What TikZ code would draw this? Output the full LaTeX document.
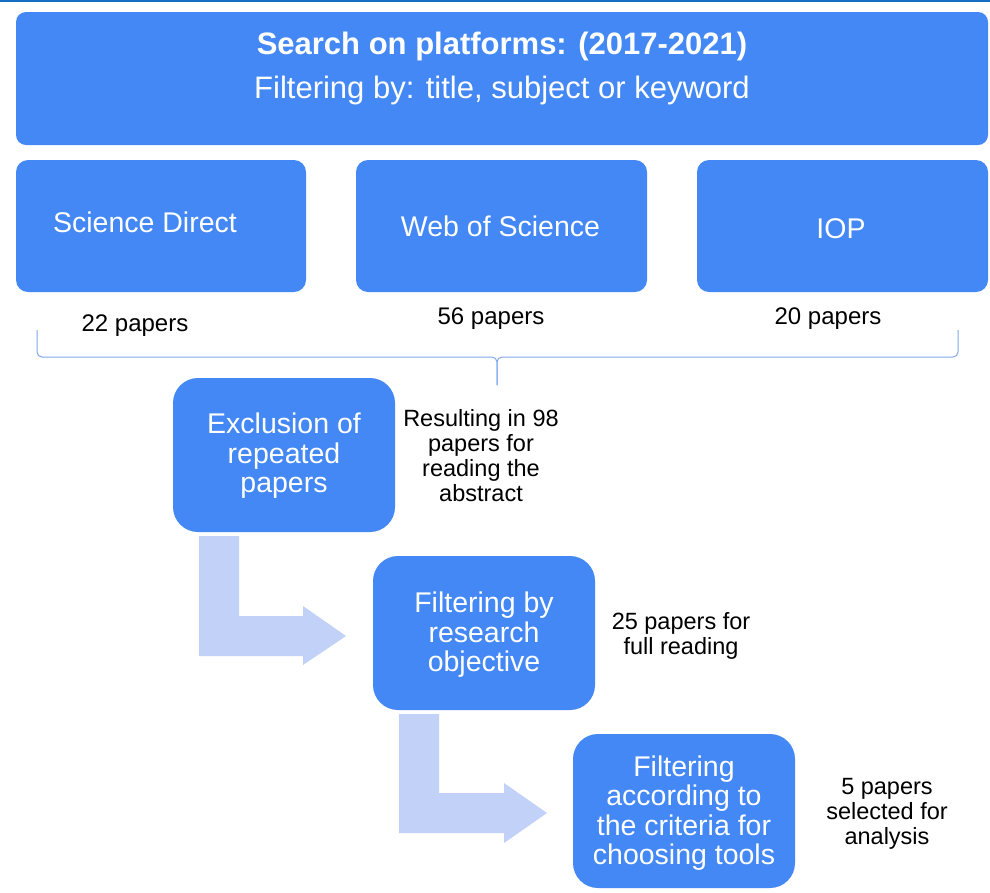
\documentclass[tikz,border=0pt]{standalone}
\usepackage{fontspec}
\setmainfont{Liberation Sans}
\begin{document}
\begin{tikzpicture}[x=1pt,y=-1pt,
  box/.style={fill=boxblue, rounded corners=#1, inner sep=0pt, draw=none},
  box/.default=10pt,
  boxtext/.style={text=white, align=center, inner sep=0pt, font=\fontsize{28.5}{29.5}\selectfont},
  headline/.style={text=white, align=center, inner sep=0pt, font=\fontsize{31}{44}\selectfont},
  note/.style={text=black, align=center, inner sep=0pt, font=\fontsize{23.5}{25}\selectfont},
  count/.style={text=black, inner sep=0pt, font=\fontsize{24}{26}\selectfont},
  bentarrow/.style={fill=arrowblue, draw=none},
  bracket/.style={draw=braceblue, line width=1pt, rounded corners=5pt}
]
\definecolor{boxblue}{RGB}{68,136,245}
\definecolor{arrowblue}{RGB}{194,209,248}
\definecolor{braceblue}{RGB}{130,168,235}
\definecolor{edgeblue}{RGB}{20,110,195}

% canvas
\useasboundingbox (0,0) rectangle (990,892);
\fill[white] (0,0) rectangle (990,892);
\fill[edgeblue] (0,0) rectangle (990,2);

% header
\node[box, minimum width=972pt, minimum height=133pt] (head) at (502,78.5) {};
\node[headline] (headtext) at (502,68)
  {\textbf{Search on platforms: (2017-2021)}\\Filtering by: title, subject or keyword};

% platforms
\node[box=12pt, minimum width=290pt, minimum height=132pt] (sd)  at (161,226) {};
\node[box=12pt, minimum width=291pt, minimum height=132pt] (wos) at (501.5,226) {};
\node[box=12pt, minimum width=291pt, minimum height=132pt] (iop) at (842.5,226) {};
\node[boxtext] (sdt)  at (145,222) {Science Direct};
\node[boxtext] (wost) at (500.5,226) {Web of Science};
\node[boxtext] (iopt) at (841,229) {IOP};

% paper counts
\node[count] (c1) at (135,326) {22 papers};
\node[count] (c2) at (491,319) {56 papers};
\node[count] (c3) at (828,319) {20 papers};

% bracket gathering the three counts
\coordinate (bl) at (37,330);
\coordinate (br) at (958,330);
\coordinate (bm) at (497,357);
\coordinate (bt) at (497,385);
\draw[bracket] (bl) -- (37,357) -- (bm) -- (bt);
\draw[bracket] (br) -- (958,357) -- (bm) -- (bt);

% screening steps
\node[box=25pt, minimum width=222pt, minimum height=154pt] (ex) at (284,455) {};
\node[boxtext] (ext) at (284,456) {Exclusion of\\repeated\\papers};
\node[note] (exn) at (481,456) {Resulting in 98\\papers for\\reading the\\abstract};

\node[box=25pt, minimum width=222pt, minimum height=154pt] (obj) at (484,633) {};
\node[boxtext] (objt) at (484,635) {Filtering by\\research\\objective};
\node[note] (objn) at (681,636) {25 papers for\\full reading};

\node[box=25pt, minimum width=222pt, minimum height=154pt] (crit) at (684,811) {};
\node[boxtext] (critt) at (684,813) {Filtering\\according to\\the criteria for\\choosing tools};
\node[note] (critn) at (887,814) {5 papers\\selected for\\analysis};

% bent arrows between steps
\fill[bentarrow] (199,536) -- (239,536) -- (239,616) -- (303,616) -- (303,606)
  -- (346,636) -- (303,665) -- (303,656) -- (199,656) -- cycle;
\fill[bentarrow] (399,714) -- (439,714) -- (439,793) -- (504,793) -- (504,783)
  -- (547,813) -- (504,843) -- (504,833) -- (399,833) -- cycle;
\end{tikzpicture}
\end{document}
